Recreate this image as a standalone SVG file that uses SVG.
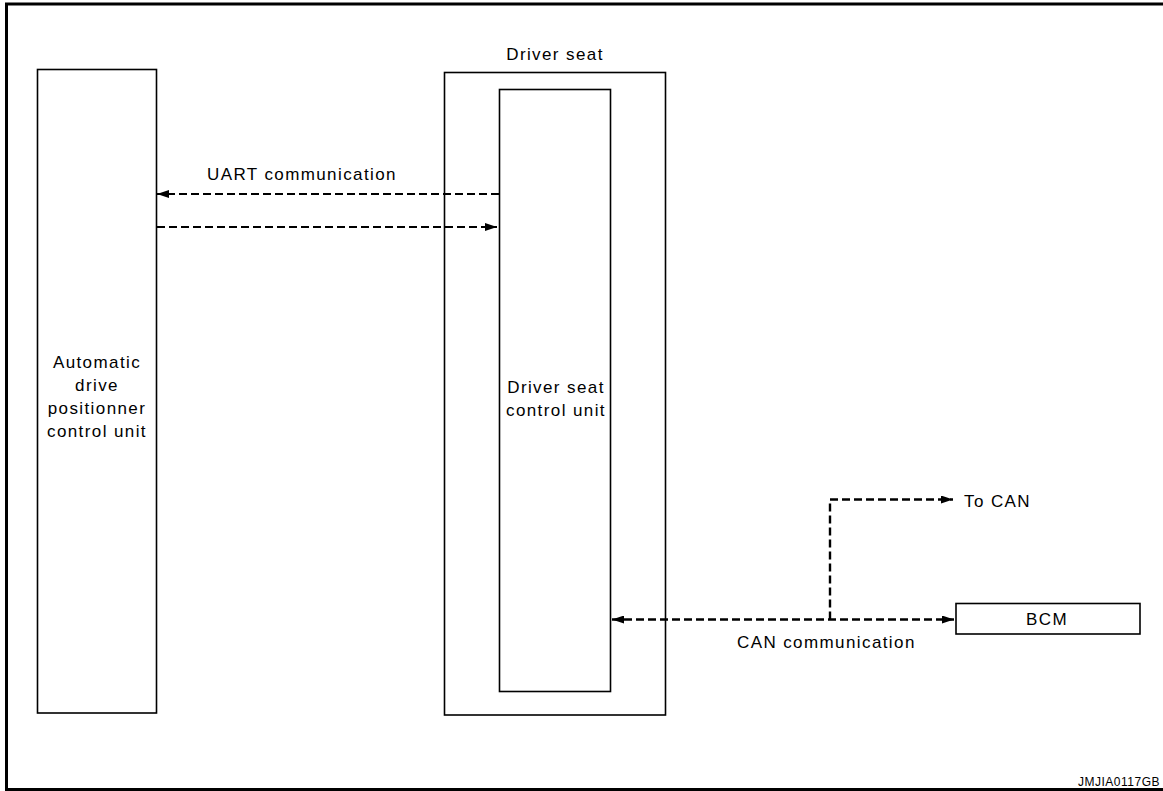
<svg xmlns="http://www.w3.org/2000/svg" width="1163" height="791" viewBox="0 0 1163 791">
<style>
.box{fill:#fff;stroke:#000;stroke-width:1.6}
.t{font-family:"Liberation Sans",Arial,sans-serif;font-size:17px;letter-spacing:1.4px;fill:#000}
.c{text-anchor:middle}
.d{fill:none;stroke:#000;stroke-width:1.8;stroke-dasharray:8 4}
.dt{fill:none;stroke:#000;stroke-width:2.4;stroke-dasharray:8 4}
</style>
<defs>
<marker id="ah" viewBox="0 0 12 8" refX="12" refY="4" markerWidth="12" markerHeight="8" markerUnits="userSpaceOnUse" orient="auto-start-reverse">
<path d="M0,0 L12,4 L0,8 Z" fill="#000"/>
</marker>
</defs>
<rect width="1163" height="791" fill="#fff"/>
<polyline points="1163,4 6.5,4 6.5,789.5 1163,789.5" fill="none" stroke="#000" stroke-width="3"/>
<g id="adp">
<rect class="box" x="37.5" y="69.5" width="119" height="643.5"/>
<text class="t c" x="97" y="368">Automatic</text>
<text class="t c" x="97" y="391">drive</text>
<text class="t c" x="97" y="414">positionner</text>
<text class="t c" x="97" y="437">control unit</text>
</g>
<g id="driver-seat">
<rect class="box" x="444.5" y="72.5" width="221" height="642.5"/>
<text class="t c" x="555" y="60">Driver seat</text>
</g>
<g id="dscu">
<rect class="box" x="499.5" y="89.5" width="111" height="602"/>
<text class="t c" x="556" y="393">Driver seat</text>
<text class="t c" x="556" y="416">control unit</text>
</g>
<g id="bcm">
<rect class="box" x="956" y="603.5" width="184" height="30.5"/>
<text class="t c" x="1047" y="625">BCM</text>
</g>
<g id="connectors">
<line class="d" x1="499" y1="194" x2="157" y2="194" marker-end="url(#ah)"/>
<line class="d" x1="157" y1="227" x2="497" y2="227" marker-end="url(#ah)"/>
<line class="dt" x1="612" y1="619.5" x2="954" y2="619.5" marker-start="url(#ah)" marker-end="url(#ah)"/>
<polyline class="dt" points="830,619.5 830,499.5 953,499.5" marker-end="url(#ah)"/>
</g>
<g id="labels">
<text class="t" x="207" y="180">UART communication</text>
<text class="t" x="964" y="507">To CAN</text>
<text class="t" x="737" y="648">CAN communication</text>
<text x="1160" y="786" text-anchor="end" font-family="Liberation Sans,Arial,sans-serif" font-size="12" letter-spacing="0.5">JMJIA0117GB</text>
</g>
</svg>
